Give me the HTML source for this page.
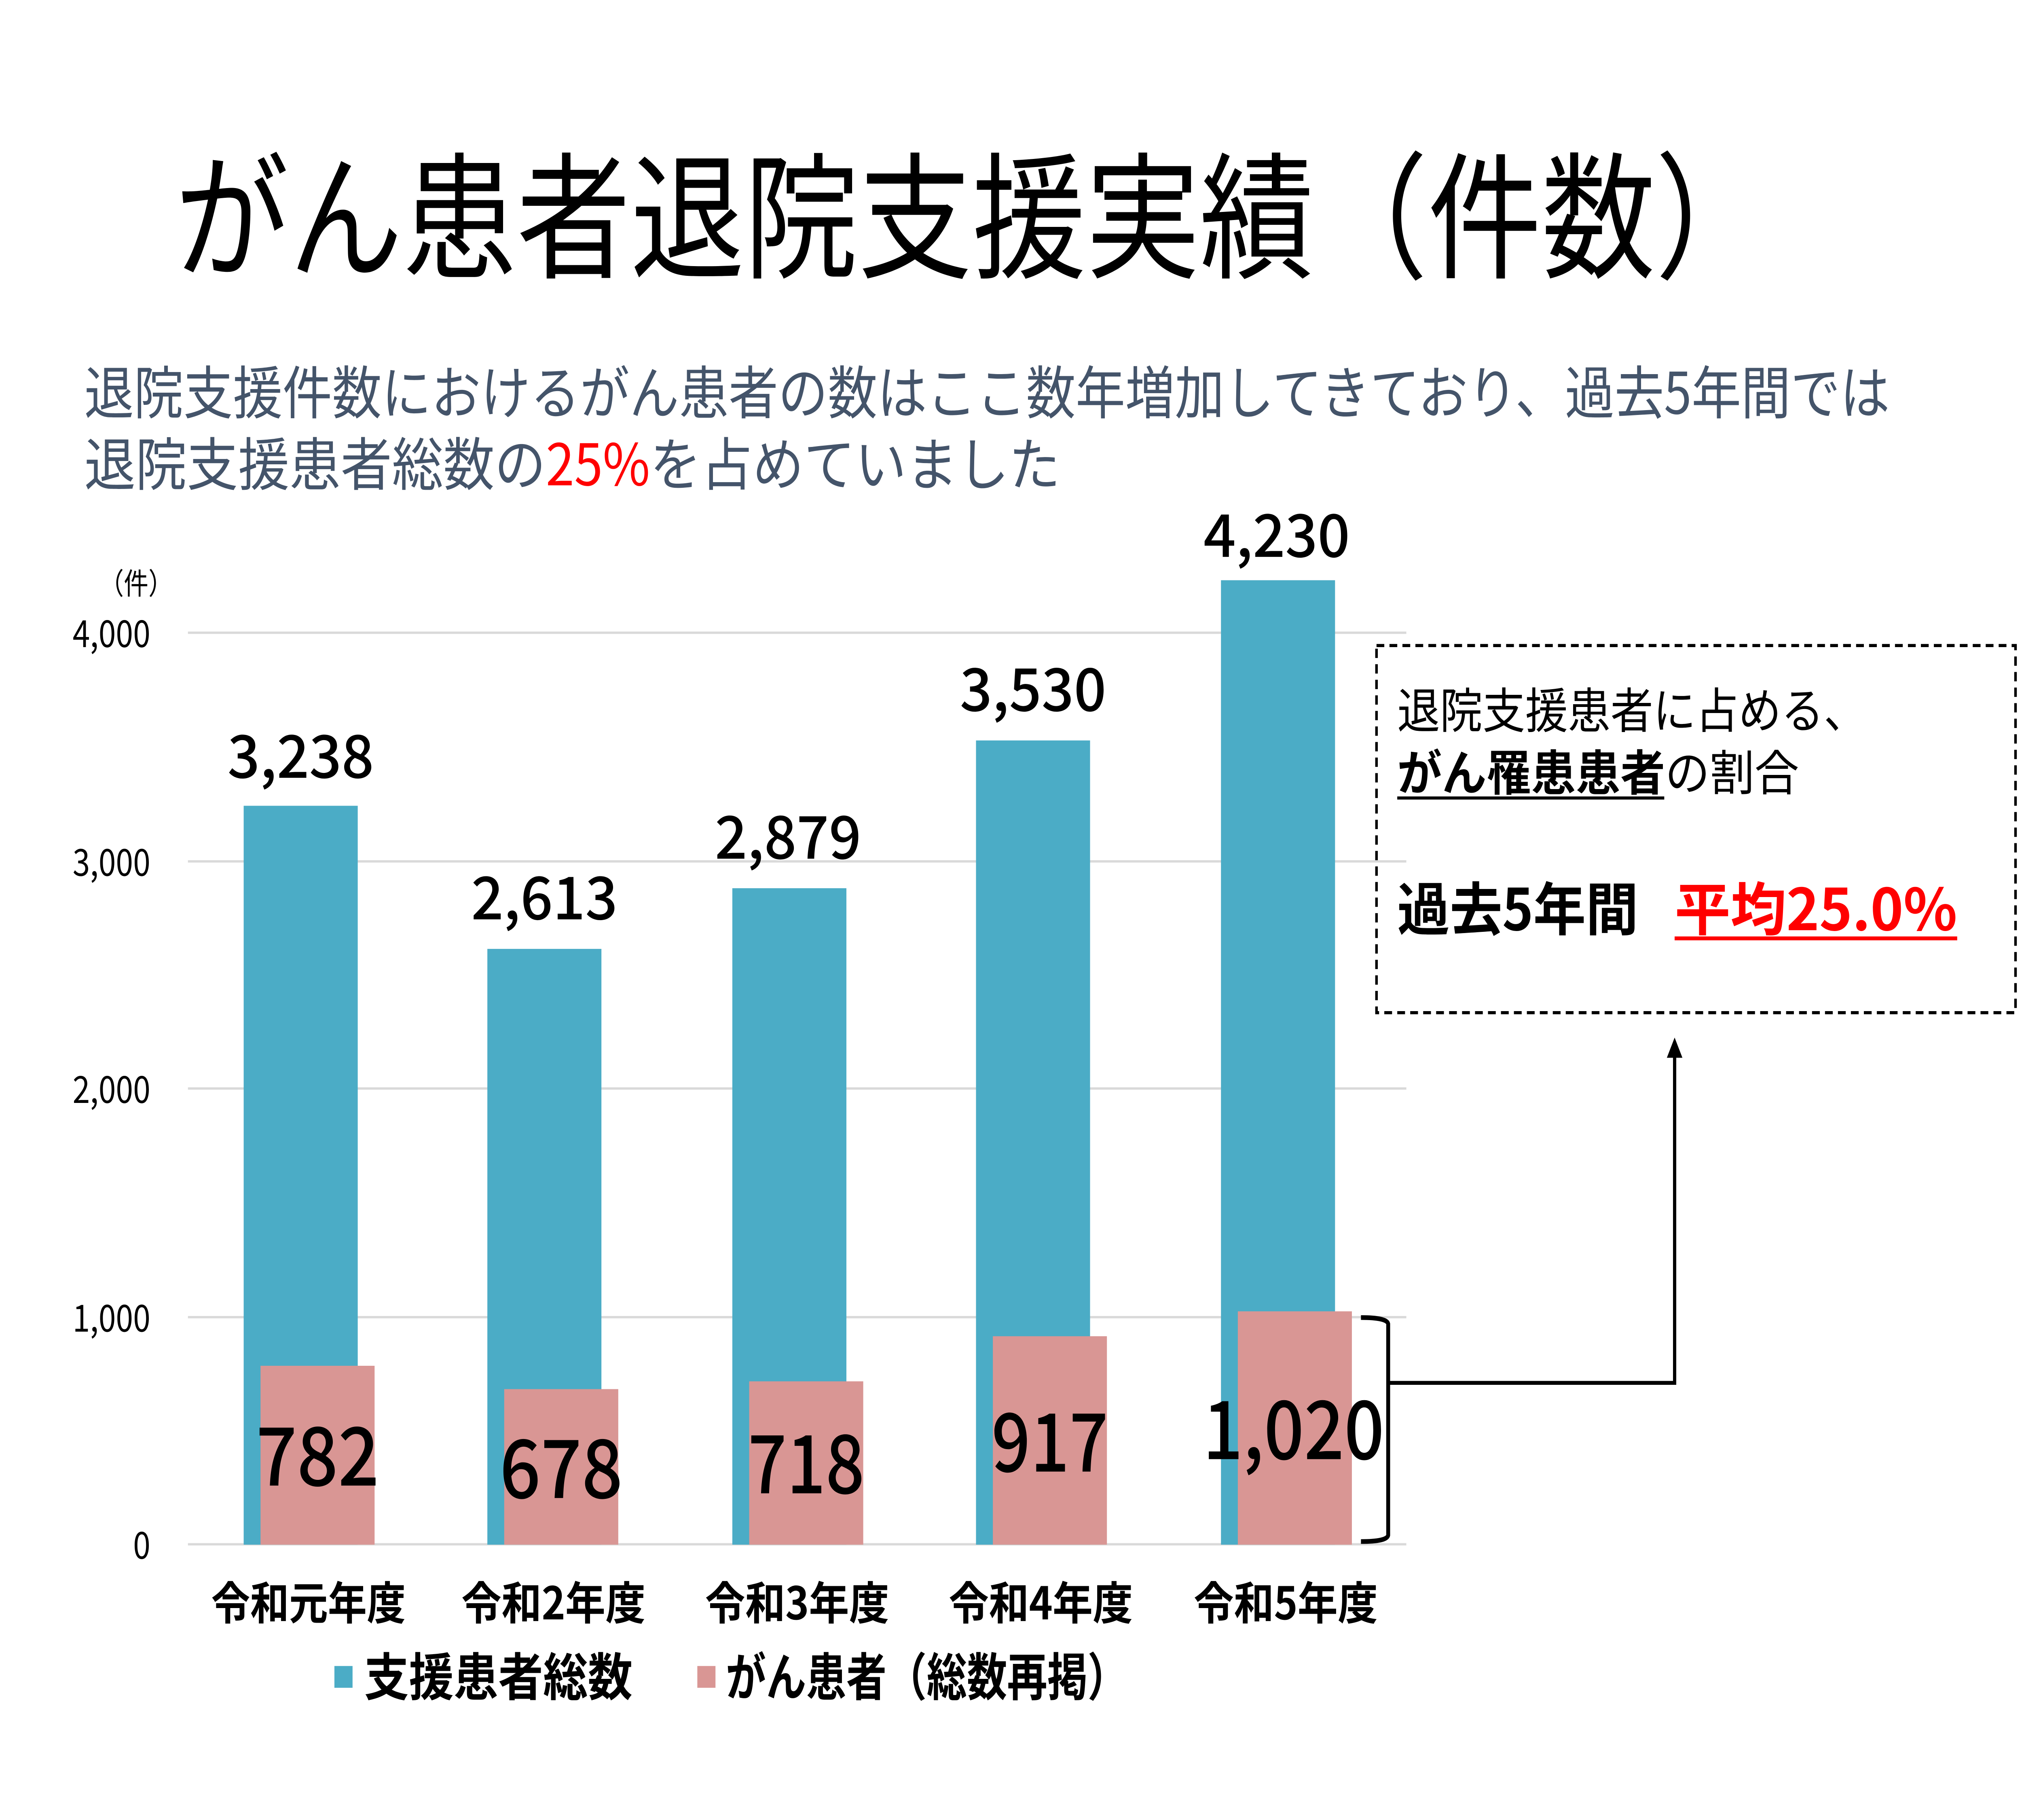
<!DOCTYPE html>
<html><head><meta charset="utf-8"><style>
html,body{margin:0;padding:0;background:#fff;width:100vw;height:100vh;overflow:hidden;}
svg{display:block;width:100vw;height:100vh;}
text{font-family:"Noto Sans CJK JP",sans-serif;}
</style></head><body>
<svg viewBox="0 0 1560 1170" preserveAspectRatio="none" xmlns="http://www.w3.org/2000/svg">
<rect width="1560" height="1170" fill="#fff"/>
<text x="135" y="172" font-size="88" textLength="1230" lengthAdjust="spacingAndGlyphs">がん患者退院支援実績（件数）</text>
<text x="65" y="266" font-size="37" fill="#44546A" textLength="1393" lengthAdjust="spacingAndGlyphs">退院支援件数におけるがん患者の数はここ数年増加してきており、過去5年間では</text>
<text x="65" y="312" font-size="37" fill="#44546A" textLength="753" lengthAdjust="spacingAndGlyphs">退院支援患者総数の<tspan fill="#FF0000">25%</tspan>を占めていました</text>

<text x="105" y="382" font-size="19" text-anchor="middle">（件）</text>
<g fill="#d9d9d9">
<rect x="145" y="406" width="940" height="1.5"/><rect x="145" y="553" width="940" height="1.5"/><rect x="145" y="699" width="940" height="1.5"/><rect x="145" y="846" width="940" height="1.5"/><rect x="145" y="992" width="940" height="1.5"/>
</g>
<g font-size="24" text-anchor="end">
<text x="116" y="416">4,000</text><text x="116" y="563">3,000</text><text x="116" y="709">2,000</text><text x="116" y="856">1,000</text><text x="116" y="1002">0</text>
</g>
<g fill="#4BACC6">
<rect x="188" y="518" width="88" height="475"/><rect x="376" y="610" width="88" height="383"/><rect x="565" y="571" width="88" height="422"/><rect x="753" y="476" width="88" height="517"/><rect x="942" y="373" width="88" height="620"/>
</g>
<g fill="#D99694">
<rect x="201" y="878" width="88" height="115"/><rect x="389" y="893" width="88" height="100"/><rect x="578" y="888" width="88" height="105"/><rect x="766" y="859" width="88" height="134"/><rect x="955" y="843" width="88" height="150"/>
</g>
<g font-size="38" font-weight="500" text-anchor="middle">
<text x="232" y="500" textLength="113" lengthAdjust="spacingAndGlyphs">3,238</text>
<text x="420" y="591" textLength="113" lengthAdjust="spacingAndGlyphs">2,613</text>
<text x="608" y="552" textLength="113" lengthAdjust="spacingAndGlyphs">2,879</text>
<text x="797" y="457" textLength="113" lengthAdjust="spacingAndGlyphs">3,530</text>
<text x="985" y="358" textLength="113" lengthAdjust="spacingAndGlyphs">4,230</text>
</g>
<g font-size="52" font-weight="500" text-anchor="middle">
<text x="245" y="955" textLength="95" lengthAdjust="spacingAndGlyphs">782</text>
<text x="433" y="963" textLength="95" lengthAdjust="spacingAndGlyphs">678</text>
<text x="622" y="960" textLength="90" lengthAdjust="spacingAndGlyphs">718</text>
<text x="810" y="946" textLength="90" lengthAdjust="spacingAndGlyphs">917</text>
<text x="998" y="938" textLength="140" lengthAdjust="spacingAndGlyphs">1,020</text>
</g>
<g font-size="29" font-weight="bold" text-anchor="middle">
<text x="238" y="1041" textLength="150" lengthAdjust="spacingAndGlyphs">令和元年度</text>
<text x="427" y="1041" textLength="142" lengthAdjust="spacingAndGlyphs">令和2年度</text>
<text x="615" y="1041" textLength="142" lengthAdjust="spacingAndGlyphs">令和3年度</text>
<text x="803" y="1041" textLength="142" lengthAdjust="spacingAndGlyphs">令和4年度</text>
<text x="992" y="1041" textLength="142" lengthAdjust="spacingAndGlyphs">令和5年度</text>
</g>
<rect x="258" y="1071" width="14" height="14" fill="#4BACC6"/>
<text x="281" y="1090" font-size="33" font-weight="bold" textLength="207" lengthAdjust="spacingAndGlyphs">支援患者総数</text>
<rect x="538" y="1071" width="14" height="14" fill="#D99694"/>
<text x="560" y="1090" font-size="33" font-weight="bold" textLength="310" lengthAdjust="spacingAndGlyphs">がん患者（総数再掲）</text>

<path d="M1050 847 Q1070 847 1071 851 L1071 987 Q1070 991 1050 991" fill="none" stroke="#000" stroke-width="3"/>
<path d="M1071 889 L1292 889 L1292 676" fill="none" stroke="#000" stroke-width="2.5"/>
<path d="M1286 680 L1292 667 L1298 680 Z" fill="#000"/>
<rect x="1062" y="415" width="493" height="236" fill="none" stroke="#000" stroke-width="2" stroke-dasharray="6,4"/>
<text x="1078" y="468" font-size="31" textLength="362" lengthAdjust="spacingAndGlyphs">退院支援患者に占める、</text>
<text x="1078" y="508" font-size="31" textLength="310" lengthAdjust="spacingAndGlyphs"><tspan font-weight="bold">がん罹患患者</tspan>の割合</text>
<rect x="1078" y="512" width="206" height="2" fill="#000"/>
<text x="1078" y="598" font-size="37" font-weight="bold" textLength="186" lengthAdjust="spacingAndGlyphs">過去5年間</text>
<text x="1292" y="598" font-size="37" font-weight="bold" fill="#FF0000" textLength="218" lengthAdjust="spacingAndGlyphs">平均25.0%</text>
<rect x="1292" y="602" width="218" height="2.5" fill="#FF0000"/>
</svg>
</body></html>
